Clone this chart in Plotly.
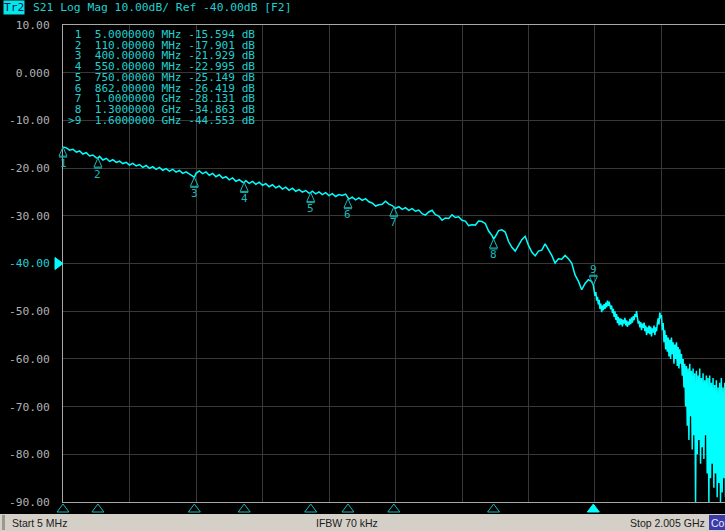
import plotly.graph_objects as go

# ---------------------------------------------------------------------------
# S21 sweep, 5 MHz .. 2.005 GHz
# Lower part of the sweep sampled every 10 MHz, the noisy top end every 2.5 MHz
# ---------------------------------------------------------------------------
COARSE_START_MHZ = 5.0
COARSE_STEP_MHZ = 10.0
s21_coarse_db = [
    -15.59, -15.75, -16.25, -16.05, -16.65, -16.40, -17.05, -16.75, -17.45, -17.25,   # 5..95
    -17.85, -17.55, -18.30, -17.95, -18.60, -18.25, -18.80, -18.55, -19.05, -18.80,   # 105..195
    -19.35, -19.00, -19.55, -19.25, -19.85, -19.45, -20.05, -19.70, -20.25, -19.85,   # 205..295
    -20.45, -20.10, -20.65, -20.25, -20.85, -20.50, -21.10, -20.80, -21.35, -21.70,   # 305..395
    -21.10, -20.60, -21.15, -20.80, -21.50, -21.10, -21.80, -21.40, -22.10, -21.80,   # 405..495
    -22.45, -22.05, -22.75, -22.40, -22.95, -22.65, -23.20, -22.80, -23.40, -22.95,   # 505..595
    -23.60, -23.25, -23.90, -23.50, -24.15, -23.75, -24.40, -24.00, -24.65, -24.20,   # 605..695
    -24.85, -24.50, -25.05, -24.70, -25.25, -24.85, -25.40, -25.00, -25.55, -25.15,   # 705..795
    -25.75, -25.35, -25.95, -25.55, -25.75, -25.45, -26.50, -26.10, -26.65, -26.25,   # 805..895
    -26.75, -26.40, -27.05, -27.30, -27.95, -27.70, -27.60, -26.95, -27.55, -27.85,   # 905..995
    -28.45, -28.10, -28.65, -28.30, -28.85, -28.50, -29.05, -28.80, -29.55, -29.85,   # 1005..1095
    -29.20, -28.85, -29.75, -30.05, -30.95, -30.45, -30.55, -29.80, -30.35, -30.20,   # 1105..1195
    -30.95, -31.10, -32.05, -31.90, -31.95, -31.10, -31.20, -31.60, -33.20, -34.10,   # 1205..1295
    -34.40, -33.10, -32.95, -33.40, -35.40, -36.60, -37.40, -36.10, -35.00, -34.30,   # 1305..1395
    -36.20, -37.60, -38.40, -37.40, -37.20, -35.90, -37.00, -38.30, -39.90, -39.00,   # 1405..1495
    -39.10, -38.30, -39.00, -39.90, -42.40, -43.70, -45.50, -44.20, -43.40, -43.80,   # 1505..1595
]

FINE_START_MHZ = 1602.5
FINE_STEP_MHZ = 2.5
s21_fine_db = [
    -45.5, -46.8, -46.0, -47.8, -47.0, -48.6, -47.6, -49.5, -48.4, -50.2,   # 1602.5..1625
    -48.8, -49.8, -48.5, -49.5, -48.2, -49.2, -47.8, -48.9, -48.0, -48.6,   # 1627.5..1650
    -49.6, -48.8, -50.4, -49.5, -51.2, -50.0, -51.8, -50.6, -52.5, -51.2,   # 1652.5..1675
    -53.0, -51.5, -52.8, -51.6, -53.2, -51.8, -52.6, -51.4, -53.0, -51.9,   # 1677.5..1700
    -53.3, -52.2, -52.9, -51.6, -52.7, -51.3, -52.4, -51.0, -51.9, -50.6,   # 1702.5..1725
    -51.2, -50.0, -51.8, -52.6, -52.0, -53.4, -52.3, -54.0, -52.6, -53.5,   # 1727.5..1750
    -52.4, -54.2, -53.0, -55.0, -53.4, -54.6, -53.0, -54.8, -53.2, -55.3,   # 1752.5..1775
    -53.6, -54.5, -53.0, -55.0, -53.4, -54.2, -52.6, -51.5, -52.8, -50.3,   # 1777.5..1800
    -51.5, -50.8, -54.0, -52.5, -56.5, -54.0, -58.0, -55.0, -58.5, -55.5,   # 1802.5..1825
    -59.5, -56.0, -60.0, -55.5, -59.0, -56.5, -61.0, -57.0, -60.0, -56.5,   # 1827.5..1850
    -61.5, -57.5, -62.0, -58.0, -61.0, -59.0, -63.5, -60.0, -66.0, -61.0,   # 1852.5..1875
    -70.0, -61.5, -74.0, -62.0, -77.0, -61.0, -72.0, -62.5, -79.0, -62.0,   # 1877.5..1900
    -76.0, -63.0, -90.0, -62.5, -80.0, -63.5, -77.0, -62.0, -82.0, -64.0,   # 1902.5..1925
    -78.5, -63.0, -81.0, -64.5, -76.0, -63.5, -84.0, -64.0, -90.0, -63.5,   # 1927.5..1950
    -85.0, -65.0, -82.0, -64.0, -87.0, -65.5, -84.0, -64.5, -89.0, -66.0,   # 1952.5..1975
    -86.0, -65.0, -90.0, -64.0, -88.0, -66.0, -85.0, -65.0, -89.0, -66.5,   # 1977.5..2000
    -87.0, -65.5,                                                           # 2002.5..2005
]

# Marker readout
marker_id = [1, 2, 3, 4, 5, 6, 7, 8, 9]
marker_freq_mhz = [5, 110, 400, 550, 750, 862, 1000, 1300, 1600]
marker_db = [-15.594, -17.901, -21.929, -22.995, -25.149, -26.419, -28.131, -34.863, -44.553]
ACTIVE_MARKER = 9

# Axis scale (10 dB/div, reference -40 dB)
x_range_mhz = [5, 1996]
y_range_db = [-90, 10]
y_tick_db = [10, 0, -10, -20, -30, -40, -50, -60, -70, -80, -90]
REF_LEVEL_DB = -40

header_text = "S21 Log Mag 10.00dB/ Ref -40.00dB [F2]"
status_left = "Start 5 MHz"
status_mid = "IFBW 70 kHz"
status_right = "Stop 2.005 GHz"

# ---------------------------------------------------------------------------
# Colours / geometry of the analyzer screen
# ---------------------------------------------------------------------------
W, H = 725, 531
M_L, M_R, M_T, M_B = 63, 0, 25, 29
PLOT_W = W - M_L - M_R
PLOT_H = H - M_T - M_B

TRACE = "#00ffff"
TEXT_CYAN = "#1fd0d0"
MARK_CYAN = "#1bb8b8"
GRID = "#383838"
FRAME = "#a8a8a8"
LABEL = "#b0b0b0"
MONO = "DejaVu Sans Mono"


def px(x):
    """screen x pixel -> paper x"""
    return (x - M_L) / PLOT_W


def py(y):
    """screen y pixel -> paper y"""
    return (H - M_B - y) / PLOT_H


def fx(f):
    return (f - x_range_mhz[0]) / (x_range_mhz[1] - x_range_mhz[0])


def fy(v):
    return (v - y_range_db[0]) / (y_range_db[1] - y_range_db[0])


# Sweep frequencies and merge in the marker readings
freq_coarse = [COARSE_START_MHZ + COARSE_STEP_MHZ * i for i in range(len(s21_coarse_db))]
freq_fine = [FINE_START_MHZ + FINE_STEP_MHZ * i for i in range(len(s21_fine_db))]
pts = sorted(zip(freq_coarse + freq_fine + marker_freq_mhz,
                 s21_coarse_db + s21_fine_db + marker_db))
trace_f = [p[0] for p in pts]
trace_db = [p[1] for p in pts]

fig = go.Figure()
fig.add_trace(go.Scatter(
    x=trace_f, y=trace_db, mode="lines",
    line=dict(color=TRACE, width=1.5),
    hoverinfo="skip", showlegend=False,
))


def tick_label(v):
    s = "0.000" if v == 0 else f"{v:.2f}"
    if v == REF_LEVEL_DB:
        s = f"<span style='fill:{TEXT_CYAN}'>{s}</span>"
    return s


shapes = []
annotations = []

# reference level pointer
shapes.append(dict(
    type="path", xref="paper", yref="paper",
    xsizemode="pixel", ysizemode="pixel",
    xanchor=0, yanchor=fy(REF_LEVEL_DB),
    path="M-8,6 L0,0 L-8,-6 Z",
    fillcolor=TRACE, line=dict(color=TRACE, width=1),
))

# markers on trace and in the bottom strip
for mid, f, v in zip(marker_id, marker_freq_mhz, marker_db):
    active = mid == ACTIVE_MARKER
    if active:
        tri = "M0,0 L-4,9 L4,9 Z M-4,10 L4,10"
        shift = 16
    else:
        tri = "M0,0 L-4,-9 L4,-9 Z M-4,-10 L4,-10"
        shift = -16
    shapes.append(dict(
        type="path", xref="paper", yref="paper",
        xsizemode="pixel", ysizemode="pixel",
        xanchor=fx(f), yanchor=fy(v), path=tri,
        line=dict(color=MARK_CYAN, width=1),
    ))
    annotations.append(dict(
        x=fx(f), y=fy(v), xref="paper", yref="paper",
        text=str(mid), showarrow=False, yshift=shift,
        font=dict(family=MONO, size=11, color=MARK_CYAN),
        xanchor="center", yanchor="middle",
    ))
    shapes.append(dict(
        type="path", xref="paper", yref="paper",
        xsizemode="pixel", ysizemode="pixel",
        xanchor=fx(f), yanchor=0,
        path="M0,-2 L-6,-10 L6,-10 Z",
        fillcolor=TRACE if active else "rgba(0,0,0,0)",
        line=dict(color=TRACE if active else MARK_CYAN, width=1),
    ))


# marker table
def fmt_freq(f):
    if f >= 1000:
        val, unit = f / 1000.0, "GHz"
    else:
        val, unit = float(f), "MHz"
    digits = len(str(int(val)))
    return f"{val:.{8 - digits}f}", unit


for row, (mid, f, v) in enumerate(zip(marker_id, marker_freq_mhz, marker_db)):
    fstr, unit = fmt_freq(f)
    flag = ">" if mid == ACTIVE_MARKER else " "
    line = f"{flag}{mid}  {fstr:>9} {unit} {v:.3f} dB".replace(" ", "\u00a0")
    annotations.append(dict(
        x=px(68), y=py(34 + row * 10.75), xref="paper", yref="paper",
        text=line, showarrow=False, xanchor="left", yanchor="middle",
        height=10, borderpad=0, borderwidth=0,
        font=dict(family=MONO, size=11.1, color=TEXT_CYAN),
    ))

# header line
annotations.append(dict(
    x=px(3), y=py(7), xref="paper", yref="paper", text="Tr2",
    showarrow=False, xanchor="left", yanchor="middle",
    bgcolor="#00e8e8", borderpad=0,
    font=dict(family=MONO, size=11.3, color="#101060"),
))
annotations.append(dict(
    x=px(31), y=py(7), xref="paper", yref="paper", text=header_text.replace(" ", "\u00a0"),
    showarrow=False, xanchor="left", yanchor="middle",
    font=dict(family=MONO, size=11.3, color=TEXT_CYAN),
))

# status bar
shapes.append(dict(
    type="rect", xref="paper", yref="paper", layer="above",
    x0=px(0), x1=px(W), y0=py(H), y1=py(514),
    fillcolor="#d4d0c8", line=dict(width=0),
))
shapes.append(dict(
    type="rect", xref="paper", yref="paper", layer="above",
    x0=px(2), x1=px(5), y0=py(H - 1), y1=py(515),
    fillcolor="#9a9890", line=dict(width=0),
))
shapes.append(dict(
    type="rect", xref="paper", yref="paper", layer="above",
    x0=px(709), x1=px(W + 10), y0=py(H - 1), y1=py(515),
    fillcolor="#3c3ca8", line=dict(width=0),
))
status_font = dict(family="Liberation Sans", size=10.5, color="#202020")
annotations += [
    dict(x=px(10), y=py(523), xref="paper", yref="paper", text=status_left,
         showarrow=False, xanchor="left", yanchor="middle", font=status_font),
    dict(x=px(347), y=py(523), xref="paper", yref="paper", text=status_mid,
         showarrow=False, xanchor="center", yanchor="middle", font=status_font),
    dict(x=px(707), y=py(523), xref="paper", yref="paper", text=status_right,
         showarrow=False, xanchor="right", yanchor="middle", font=status_font),
    dict(x=px(709), y=py(523), xref="paper", yref="paper", text="Cor",
         showarrow=False, xanchor="left", yanchor="middle",
         font=dict(family="Liberation Sans", size=10.5, color="#e8e8ff")),
]

fig.update_layout(
    width=W, height=H,
    margin=dict(l=M_L, r=M_R, t=M_T, b=M_B, pad=0),
    paper_bgcolor="#000000", plot_bgcolor="#000000",
    showlegend=False,
    shapes=shapes, annotations=annotations,
    xaxis=dict(
        range=x_range_mhz, tick0=5, dtick=200,
        showgrid=True, gridcolor=GRID, gridwidth=1,
        showticklabels=False, ticks="", zeroline=False,
        showline=True, linecolor=FRAME, linewidth=1, mirror=True,
    ),
    yaxis=dict(
        range=y_range_db, tickvals=y_tick_db,
        ticktext=[tick_label(v) for v in y_tick_db],
        showgrid=True, gridcolor=GRID, gridwidth=1,
        ticks="", ticklabelstandoff=10, zeroline=False,
        showline=True, linecolor=FRAME, linewidth=1,
        tickfont=dict(family=MONO, size=11.3, color=LABEL),
    ),
)

fig.write_html("out.html", config={"displayModeBar": False})
